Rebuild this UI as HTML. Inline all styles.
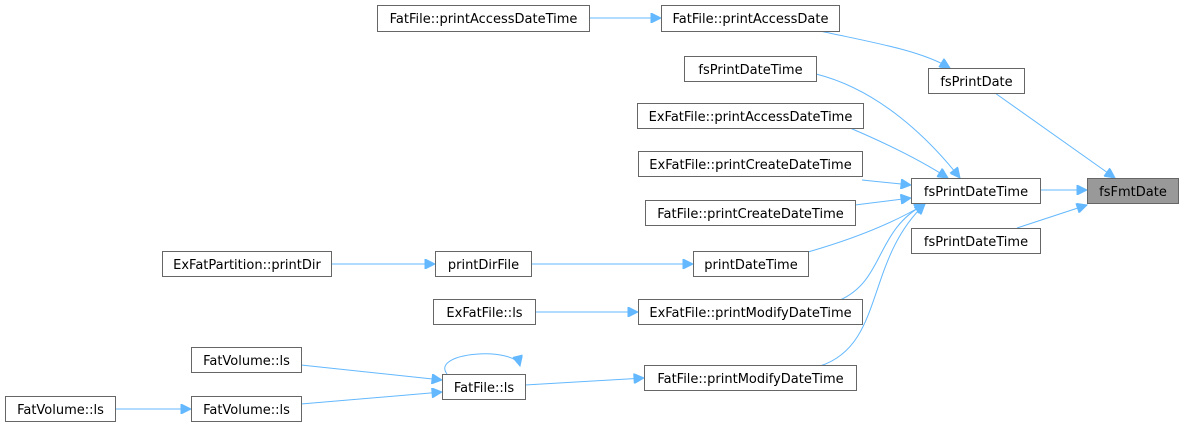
<!DOCTYPE html>
<html><head><meta charset="utf-8"><style>
html,body{margin:0;padding:0;background:#fff;}
svg{display:block;}
text{font-family:"DejaVu Sans","Liberation Sans",sans-serif;font-size:13px;fill:#000;}
rect{fill:#fff;stroke:#666;stroke-width:1;}
path{fill:none;stroke:#63b8ff;stroke-width:1;}
</style></head><body>
<svg width="1184" height="429" viewBox="0 0 1184 429">
<defs><marker id="a" viewBox="0 0 10 10" refX="10" refY="5" markerWidth="14" markerHeight="10" markerUnits="userSpaceOnUse" orient="auto"><path d="M0,0 L10,5 L0,10 Z" style="fill:#63b8ff;stroke:#63b8ff"/></marker></defs>
<g marker-end="url(#a)">
<path d="M589,18 L661,18"/>
<path d="M820,31 C870,42 920,50 950,68"/>
<path d="M995,93 L1115,178"/>
<path d="M1040,190 L1087,190"/>
<path d="M1017,228 L1087,205"/>
<path d="M816,74 C880,90 930,140 960,178"/>
<path d="M850,128 C890,145 920,160 948,178"/>
<path d="M862,180 L911,185"/>
<path d="M855,205 L911,198"/>
<path d="M808,252 C850,240 890,225 925,204"/>
<path d="M840,300 C885,280 875,230 925,204"/>
<path d="M820,366 C885,345 865,260 925,204"/>
<path d="M331,264 L435,264"/>
<path d="M531,264 L693,264"/>
<path d="M535,312 L638,312"/>
<path d="M525,385 L644,378"/>
<path d="M301,365 L442,380"/>
<path d="M301,404 L442,392"/>
<path d="M115,409 L191,409"/>
<path d="M447,374 C430,352 515,346 520,366"/>
</g>
<g>
<rect x="377.5" y="5.5" width="212" height="26"/><text x="483.5" y="23" text-anchor="middle">FatFile::printAccessDateTime</text>
<rect x="661.5" y="5.5" width="178" height="26"/><text x="750.5" y="23" text-anchor="middle">FatFile::printAccessDate</text>
<rect x="928.5" y="68.5" width="96" height="25"/><text x="976.5" y="86" text-anchor="middle">fsPrintDate</text>
<rect x="684.5" y="56.5" width="132" height="25"/><text x="750.5" y="74" text-anchor="middle">fsPrintDateTime</text>
<rect x="637.5" y="103.5" width="226" height="25"/><text x="750.5" y="121" text-anchor="middle">ExFatFile::printAccessDateTime</text>
<rect x="638.5" y="151.5" width="224" height="25"/><text x="750.5" y="169" text-anchor="middle">ExFatFile::printCreateDateTime</text>
<rect x="911.5" y="178.5" width="129" height="25"/><text x="976" y="196" text-anchor="middle">fsPrintDateTime</text>
<rect x="1087.5" y="178.5" width="91" height="25" style="fill:#999"/><text x="1133" y="196" text-anchor="middle">fsFmtDate</text>
<rect x="645.5" y="200.5" width="210" height="25"/><text x="750.5" y="218" text-anchor="middle">FatFile::printCreateDateTime</text>
<rect x="911.5" y="228.5" width="129" height="25"/><text x="976" y="246" text-anchor="middle">fsPrintDateTime</text>
<rect x="162.5" y="251.5" width="169" height="25"/><text x="247" y="269" text-anchor="middle">ExFatPartition::printDir</text>
<rect x="435.5" y="251.5" width="96" height="25"/><text x="483.5" y="269" text-anchor="middle">printDirFile</text>
<rect x="693.5" y="251.5" width="115" height="25"/><text x="751" y="269" text-anchor="middle">printDateTime</text>
<rect x="433.5" y="299.5" width="102" height="25"/><text x="484.5" y="317" text-anchor="middle">ExFatFile::ls</text>
<rect x="638.5" y="299.5" width="224" height="25"/><text x="750.5" y="317" text-anchor="middle">ExFatFile::printModifyDateTime</text>
<rect x="191.5" y="347.5" width="110" height="25"/><text x="246.5" y="365" text-anchor="middle">FatVolume::ls</text>
<rect x="644.5" y="365.5" width="212" height="25"/><text x="750.5" y="383" text-anchor="middle">FatFile::printModifyDateTime</text>
<rect x="442.5" y="374.5" width="83" height="25"/><text x="484" y="392" text-anchor="middle">FatFile::ls</text>
<rect x="5.5" y="396.5" width="110" height="25"/><text x="60.5" y="414" text-anchor="middle">FatVolume::ls</text>
<rect x="191.5" y="396.5" width="110" height="25"/><text x="246.5" y="414" text-anchor="middle">FatVolume::ls</text>
</g>
</svg>
</body></html>
